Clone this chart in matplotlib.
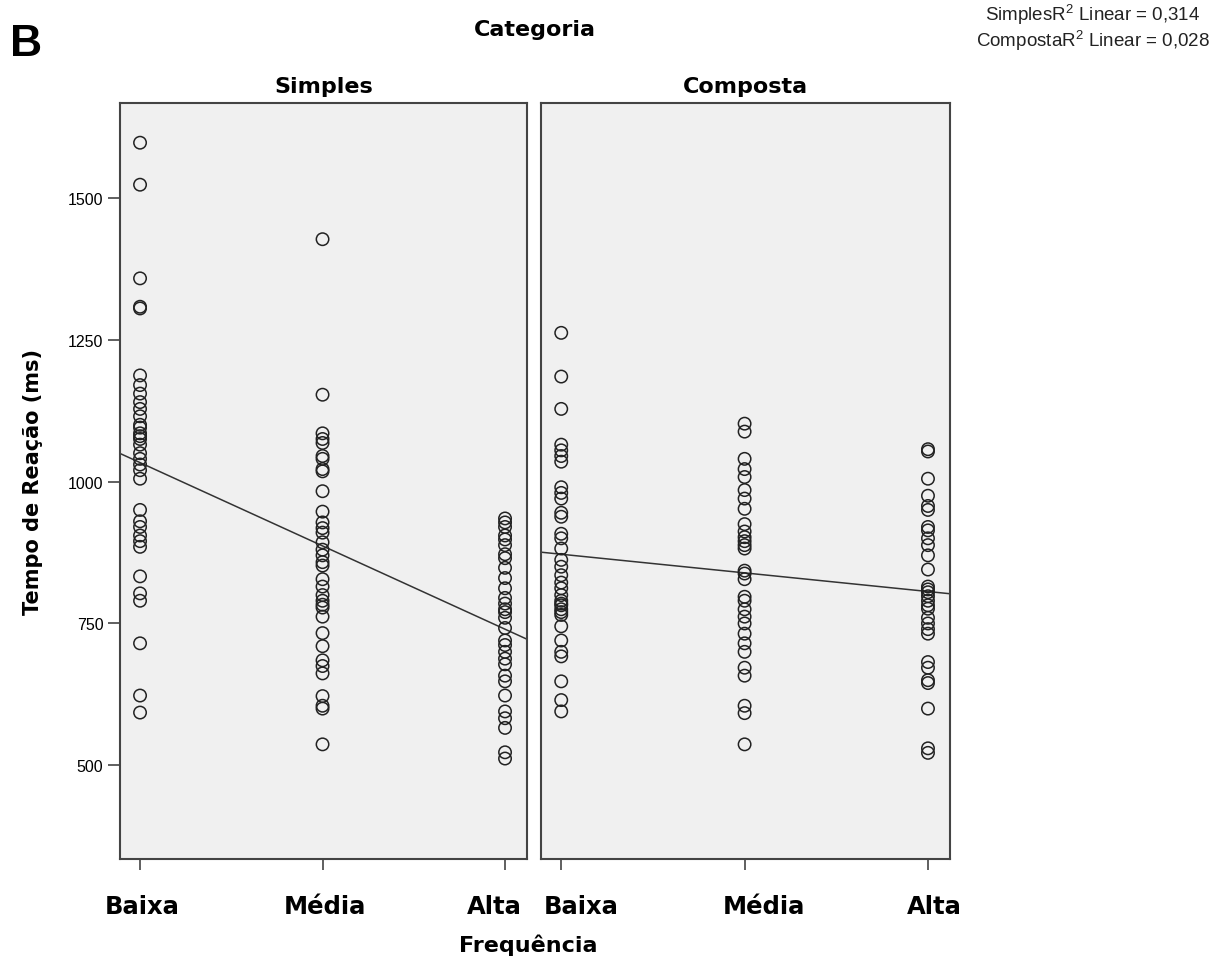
import numpy as np
import matplotlib
matplotlib.use("Agg")
import matplotlib.pyplot as plt
import matplotlib.transforms as mtransforms

# valores (tempo de reação em ms)
niveis = ["Baixa", "Média", "Alta"]
paineis = ["Simples", "Composta"]

simples_baixa = [1597, 1523, 1358, 1308, 1305, 1187, 1170, 1155, 1140, 1128, 1115, 1100,
                 1095, 1085, 1080, 1075, 1065, 1050, 1040, 1030, 1020, 1005, 950, 930,
                 920, 905, 895, 885, 833, 803, 790, 715, 623, 593]
simples_media = [1427, 1153, 1085, 1075, 1068, 1045, 1040, 1022, 1018, 983, 947, 928,
                 918, 910, 893, 880, 870, 858, 852, 828, 815, 800, 790, 783, 778, 762,
                 733, 710, 685, 675, 662, 622, 605, 600, 537]
simples_alta = [935, 928, 920, 905, 898, 888, 872, 865, 848, 830, 812, 795, 785, 775, 770,
                760, 742, 720, 712, 700, 688, 678, 658, 648, 623, 595, 583, 566, 523, 512]

composta_baixa = [1262, 1185, 1128, 1065, 1055, 1045, 1035, 990, 980, 970, 945, 938, 908,
                  900, 882, 862, 850, 835, 822, 812, 800, 790, 785, 782, 775, 770, 765,
                  745, 720, 700, 692, 648, 615, 595]
composta_media = [1102, 1088, 1040, 1022, 1008, 985, 970, 952, 925, 912, 902, 895, 888,
                  882, 843, 838, 828, 797, 790, 775, 762, 750, 732, 715, 700, 672, 658,
                  605, 592, 537]
composta_alta = [1057, 1053, 1005, 975, 957, 950, 920, 914, 900, 888, 870, 845, 815, 810,
                 805, 798, 790, 782, 776, 760, 750, 740, 732, 682, 672, 650, 645, 600,
                 530, 522]

r2_textos = ["Simples$\\mathregular{R^2}$ Linear = 0,314",
             "Composta$\\mathregular{R^2}$ Linear = 0,028"]

dados = {
    "Simples": [simples_baixa, simples_media, simples_alta],
    "Composta": [composta_baixa, composta_media, composta_alta],
}

# deslocamento horizontal (px) dos rótulos do eixo x, como no SPSS
desloc = {"Simples": [2, 2, -11], "Composta": [20, 19, 6]}

plt.rcParams['font.family'] = ['DejaVu Sans']

fig = plt.figure(figsize=(12.28, 9.7), dpi=100)
ax1 = fig.add_axes([0.0977, 0.1134, 0.3314, 0.7794])
ax2 = fig.add_axes([0.4406, 0.1134, 0.3330, 0.7794])

for ax, nome in zip([ax1, ax2], paineis):
    ax.set_facecolor("#f0f0f0")
    xs, ys = [], []
    for i, vals in enumerate(dados[nome]):
        xs += [i + 1] * len(vals)
        ys += vals
    xs = np.array(xs, dtype=float)
    ys = np.array(ys, dtype=float)
    ax.scatter(xs, ys, s=80, facecolors="none", edgecolors="#222222", linewidths=1.1, zorder=3)

    ax.set_xlim(0.89, 3.12)
    ax.set_ylim(335, 1667)
    # reta de regressão linear
    b, a = np.polyfit(xs, ys, 1)
    xl = np.array(ax.get_xlim())
    ax.plot(xl, a + b * xl, color="#333333", lw=1.1, zorder=2)

    ax.set_xticks([1, 2, 3])
    ax.set_xticklabels(niveis, fontsize=17.5, fontweight="bold")
    ax.tick_params(axis="x", direction="out", length=8, width=1.2, color="#444444", pad=17)
    for lab, dx in zip(ax.get_xticklabels(), desloc[nome]):
        lab.set_transform(lab.get_transform() +
                          mtransforms.ScaledTranslation(dx / 100, 0, fig.dpi_scale_trans))
    for s in ax.spines.values():
        s.set_color("#444444")
        s.set_linewidth(1.5)
    ax.set_title(nome, fontsize=16, fontweight="bold", pad=8)

ax1.set_yticks([500, 750, 1000, 1250, 1500])
ax1.set_yticklabels(["500", "750", "1000", "1250", "1500"], family="Liberation Sans", fontsize=11.5)
ax1.tick_params(axis="y", direction="out", length=9, width=1.2, color="#444444", pad=3)
ax1.set_ylabel("Tempo de Reação (ms)", fontsize=15, fontweight="bold", labelpad=18)
ax2.set_yticks([])

fig.text(0.4357, 0.969, "Categoria", ha="center", va="center", fontsize=16, fontweight="bold")
fig.text(0.43, 0.026, "Frequência", ha="center", va="center", fontsize=16, fontweight="bold")
fig.text(0.008, 0.975, "B", ha="left", va="top", fontsize=32, fontweight="bold",
         family="Liberation Sans")
fig.text(0.89, 0.985, r2_textos[0], ha="center", va="center", fontsize=13.5,
         family="Liberation Sans", color="#222222")
fig.text(0.89, 0.958, r2_textos[1], ha="center", va="center", fontsize=13.5,
         family="Liberation Sans", color="#222222")

fig.savefig("out.png", dpi=100)
